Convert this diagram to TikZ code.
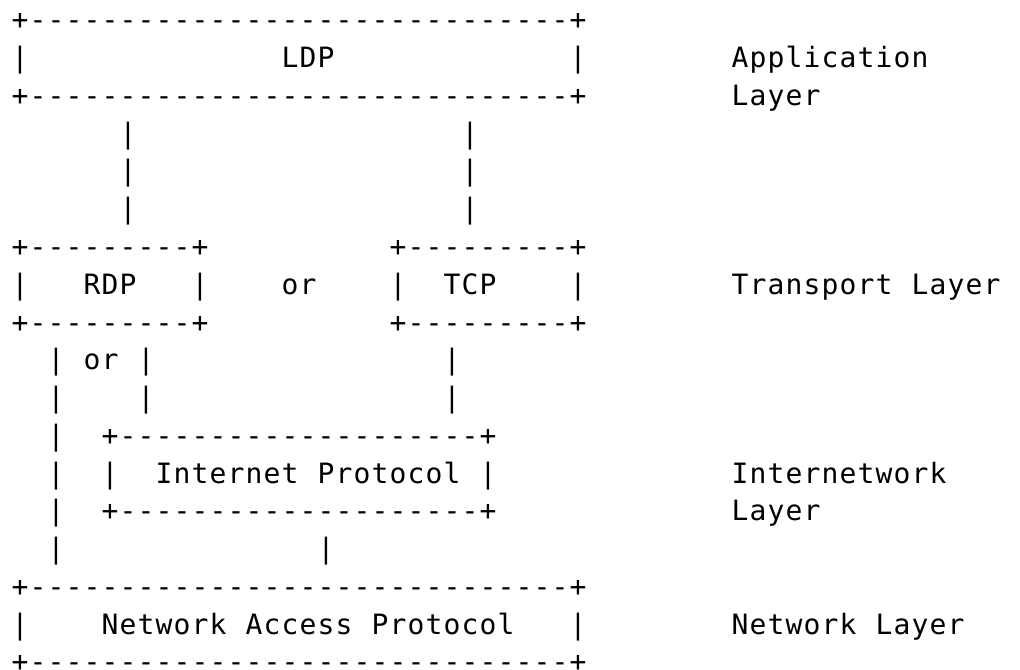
\documentclass[tikz,border=0pt]{standalone}
\usepackage{fontspec}
\setmonofont[LetterSpace=4.07]{DejaVu Sans Mono}
\tikzset{
  ch/.style={anchor=base west, inner sep=0pt, outer sep=0pt, text=black,
    font=\ttfamily\fontsize{21}{25}\selectfont}
}
% #1 name, #2 column, #3 line, #4 text
\newcommand\asc[4]{\node[ch] (#1) at ({#2*18+11.7},{-(30+(#3-1)*37.75)}) {#4};}
\begin{document}
\begin{tikzpicture}[x=0.75pt,y=0.75pt]
\useasboundingbox (0,0) rectangle (1020,-670);
% LDP box
\asc{ldpTop}{0}{1}{+------------------------------+}
\asc{ldpL}{0}{2}{|}
\asc{ldp}{15}{2}{LDP}
\asc{ldpR}{31}{2}{|}
\asc{appA}{40}{2}{Application}
\asc{ldpBot}{0}{3}{+------------------------------+}
\asc{appB}{40}{3}{Layer}
% links LDP -> transport
\asc{vA4}{6}{4}{|}\asc{vB4}{25}{4}{|}
\asc{vA5}{6}{5}{|}\asc{vB5}{25}{5}{|}
\asc{vA6}{6}{6}{|}\asc{vB6}{25}{6}{|}
% RDP / TCP
\asc{rdpTop}{0}{7}{+---------+}
\asc{tcpTop}{21}{7}{+---------+}
\asc{rdpL}{0}{8}{|}
\asc{rdp}{4}{8}{RDP}
\asc{rdpR}{10}{8}{|}
\asc{orA}{15}{8}{or}
\asc{tcpL}{21}{8}{|}
\asc{tcp}{24}{8}{TCP}
\asc{tcpR}{31}{8}{|}
\asc{trA}{40}{8}{Transport}
\asc{trB}{50}{8}{Layer}
\asc{rdpBot}{0}{9}{+---------+}
\asc{tcpBot}{21}{9}{+---------+}
% links transport -> IP / network
\asc{vC10}{2}{10}{|}\asc{orB}{4}{10}{or}\asc{vD10}{7}{10}{|}\asc{vE10}{24}{10}{|}
\asc{vC11}{2}{11}{|}\asc{vD11}{7}{11}{|}\asc{vE11}{24}{11}{|}
\asc{vC12}{2}{12}{|}
\asc{ipTop}{5}{12}{+--------------------+}
\asc{vC13}{2}{13}{|}
\asc{ipL}{5}{13}{|}
\asc{ipA}{8}{13}{Internet}
\asc{ipB}{17}{13}{Protocol}
\asc{ipR}{26}{13}{|}
\asc{inA}{40}{13}{Internetwork}
\asc{vC14}{2}{14}{|}
\asc{ipBot}{5}{14}{+--------------------+}
\asc{inB}{40}{14}{Layer}
\asc{vC15}{2}{15}{|}\asc{vF15}{17}{15}{|}
% Network access box
\asc{naTop}{0}{16}{+------------------------------+}
\asc{naL}{0}{17}{|}
\asc{naA}{5}{17}{Network}
\asc{naB}{13}{17}{Access}
\asc{naC}{20}{17}{Protocol}
\asc{naR}{31}{17}{|}
\asc{nlA}{40}{17}{Network}
\asc{nlB}{48}{17}{Layer}
\asc{naBot}{0}{18}{+------------------------------+}
\end{tikzpicture}
\end{document}
